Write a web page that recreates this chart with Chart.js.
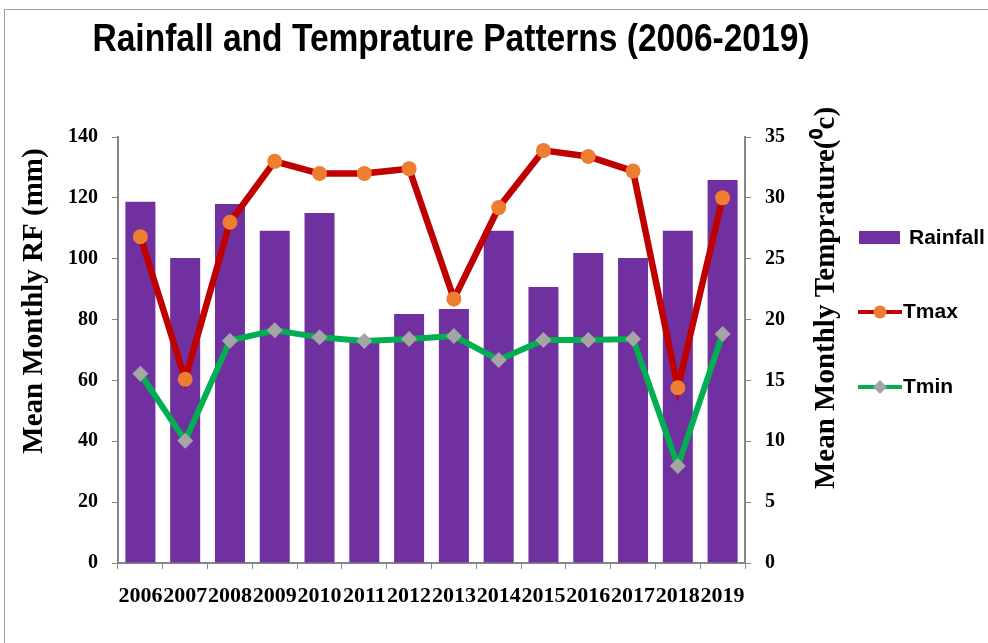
<!DOCTYPE html>
<html>
<head>
<meta charset="utf-8">
<script src="https://cdn.jsdelivr.net/npm/chart.js@4"></script>
<style>
  html, body { margin: 0; padding: 0; background: #fff; }
  #wrap { position: relative; width: 988px; height: 643px; overflow: hidden; }
  #frame { position: absolute; left: 4px; top: 9px; width: 1000px; height: 700px; border: 1px solid #a0a0a0; }
  canvas { position: absolute; left: 0; top: 0; }
</style>
</head>
<body>
<div id="wrap">
  <div id="frame"></div>
  <canvas id="rainChart" width="988" height="643"></canvas>
</div>
<script>
const years = ["2006", "2007", "2008", "2009", "2010", "2011", "2012", "2013", "2014", "2015", "2016", "2017", "2018", "2019"];
const rainfall = [118.7, 100.2, 118, 109.2, 115, 72.8, 81.8, 83.5, 109.2, 90.7, 101.9, 100.2, 109.2, 125.9];
const tmax = [26.8, 15.1, 28.0, 33.0, 32.0, 32.0, 32.4, 21.7, 29.2, 33.9, 33.4, 32.2, 14.4, 30.0];
const tmin = [15.55, 10.05, 18.27, 19.12, 18.54, 18.24, 18.4, 18.65, 16.68, 18.32, 18.32, 18.4, 7.97, 18.82];

const titleText = "Rainfall and Temprature Patterns (2006-2019)";
const leftTitle = "Mean Monthly RF (mm)";
const rightTitle = "Mean Monthly Temprature(\u2070c)";
const sans = "'Liberation Sans', Arial, sans-serif";
const serif = "'Liberation Serif', 'Times New Roman', serif";

// title, axis titles and legend drawn by hand
const extras = {
  id: "extras",
  afterDraw(chart) {
    const ctx = chart.ctx;
    ctx.save();
    ctx.fillStyle = "#000";
    ctx.textAlign = "center";
    ctx.textBaseline = "middle";

    // squeezed bold title
    ctx.save();
    ctx.font = "bold 39px " + sans;
    ctx.translate(451, 40);
    ctx.scale(717 / ctx.measureText(titleText).width, 1);
    ctx.fillText(titleText, 0, 0);
    ctx.restore();

    // axis titles, both read upwards
    ctx.font = "bold 29px " + serif;
    ctx.save();
    ctx.translate(35, 301);
    ctx.rotate(-Math.PI / 2);
    ctx.fillText(leftTitle, 0, 0);
    ctx.restore();
    ctx.save();
    ctx.translate(827, 298);
    ctx.rotate(-Math.PI / 2);
    ctx.fillText(rightTitle, 0, 0);
    ctx.restore();

    // legend
    ctx.font = "bold 21px " + sans;
    ctx.textAlign = "left";
    ctx.fillStyle = "#7030A0";
    ctx.fillRect(859, 231, 41, 13);
    ctx.fillStyle = "#000";
    ctx.fillText("Rainfall", 909, 238);

    ctx.strokeStyle = "#C00000";
    ctx.lineWidth = 4;
    ctx.beginPath(); ctx.moveTo(858, 312); ctx.lineTo(902, 312); ctx.stroke();
    ctx.fillStyle = "#ED7D31";
    ctx.beginPath(); ctx.arc(880, 312, 6.5, 0, Math.PI * 2); ctx.fill();
    ctx.fillStyle = "#000";
    ctx.fillText("Tmax", 903, 312);

    ctx.strokeStyle = "#00B050";
    ctx.beginPath(); ctx.moveTo(858, 387); ctx.lineTo(902, 387); ctx.stroke();
    ctx.fillStyle = "#A5A5A5";
    ctx.beginPath();
    ctx.moveTo(880, 380); ctx.lineTo(887, 387); ctx.lineTo(880, 394); ctx.lineTo(873, 387);
    ctx.closePath(); ctx.fill();
    ctx.fillStyle = "#000";
    ctx.fillText("Tmin", 903, 387);
    ctx.restore();
  }
};

const ctx = document.getElementById("rainChart").getContext("2d");
new Chart(ctx, {
  data: {
    labels: years,
    datasets: [
      {
        type: "line",
        label: "Tmin",
        data: tmin,
        yAxisID: "y1",
        borderColor: "#00B050",
        borderWidth: 6,
        tension: 0,
        pointStyle: "rectRot",
        pointRadius: 8,
        pointBorderWidth: 0,
        pointBackgroundColor: "#A5A5A5",
        order: 1
      },
      {
        type: "line",
        label: "Tmax",
        data: tmax,
        yAxisID: "y1",
        borderColor: "#C00000",
        borderWidth: 6.5,
        tension: 0,
        pointRadius: 7.5,
        pointBorderWidth: 0,
        pointBackgroundColor: "#ED7D31",
        order: 2
      },
      {
        type: "bar",
        label: "Rainfall",
        data: rainfall,
        yAxisID: "y",
        backgroundColor: "#7030A0",
        categoryPercentage: 1,
        barPercentage: 0.67,
        order: 3
      }
    ]
  },
  options: {
    responsive: false,
    animation: false,
    layout: { padding: { left: 22, right: 148, top: 137, bottom: 30 } },
    plugins: {
      legend: { display: false },
      title: { display: false },
      tooltip: { enabled: false }
    },
    scales: {
      x: {
        grid: { display: true, drawOnChartArea: false, color: "#868686", tickLength: 6, offset: true },
        border: { color: "#868686", width: 2 },
        ticks: { color: "#000", font: { family: serif, weight: "bold", size: 22 }, padding: 14, maxRotation: 0, autoSkip: false },
        afterFit(scale) { scale.height = 50; }
      },
      y: {
        position: "left",
        min: 0,
        max: 140,
        ticks: { stepSize: 20, color: "#000", font: { family: serif, weight: "bold", size: 20 }, padding: 14 },
        grid: { drawOnChartArea: false, color: "#868686", tickLength: 6 },
        border: { color: "#868686", width: 2 },
        afterFit(scale) { scale.width = 96; }
      },
      y1: {
        position: "right",
        min: 0,
        max: 35,
        ticks: { stepSize: 5, color: "#000", font: { family: serif, weight: "bold", size: 20 }, padding: 14 },
        grid: { drawOnChartArea: false, color: "#868686", tickLength: 6 },
        border: { color: "#868686", width: 2 },
        afterFit(scale) { scale.width = 95; }
      }
    }
  },
  plugins: [extras]
});
</script>
</body>
</html>
